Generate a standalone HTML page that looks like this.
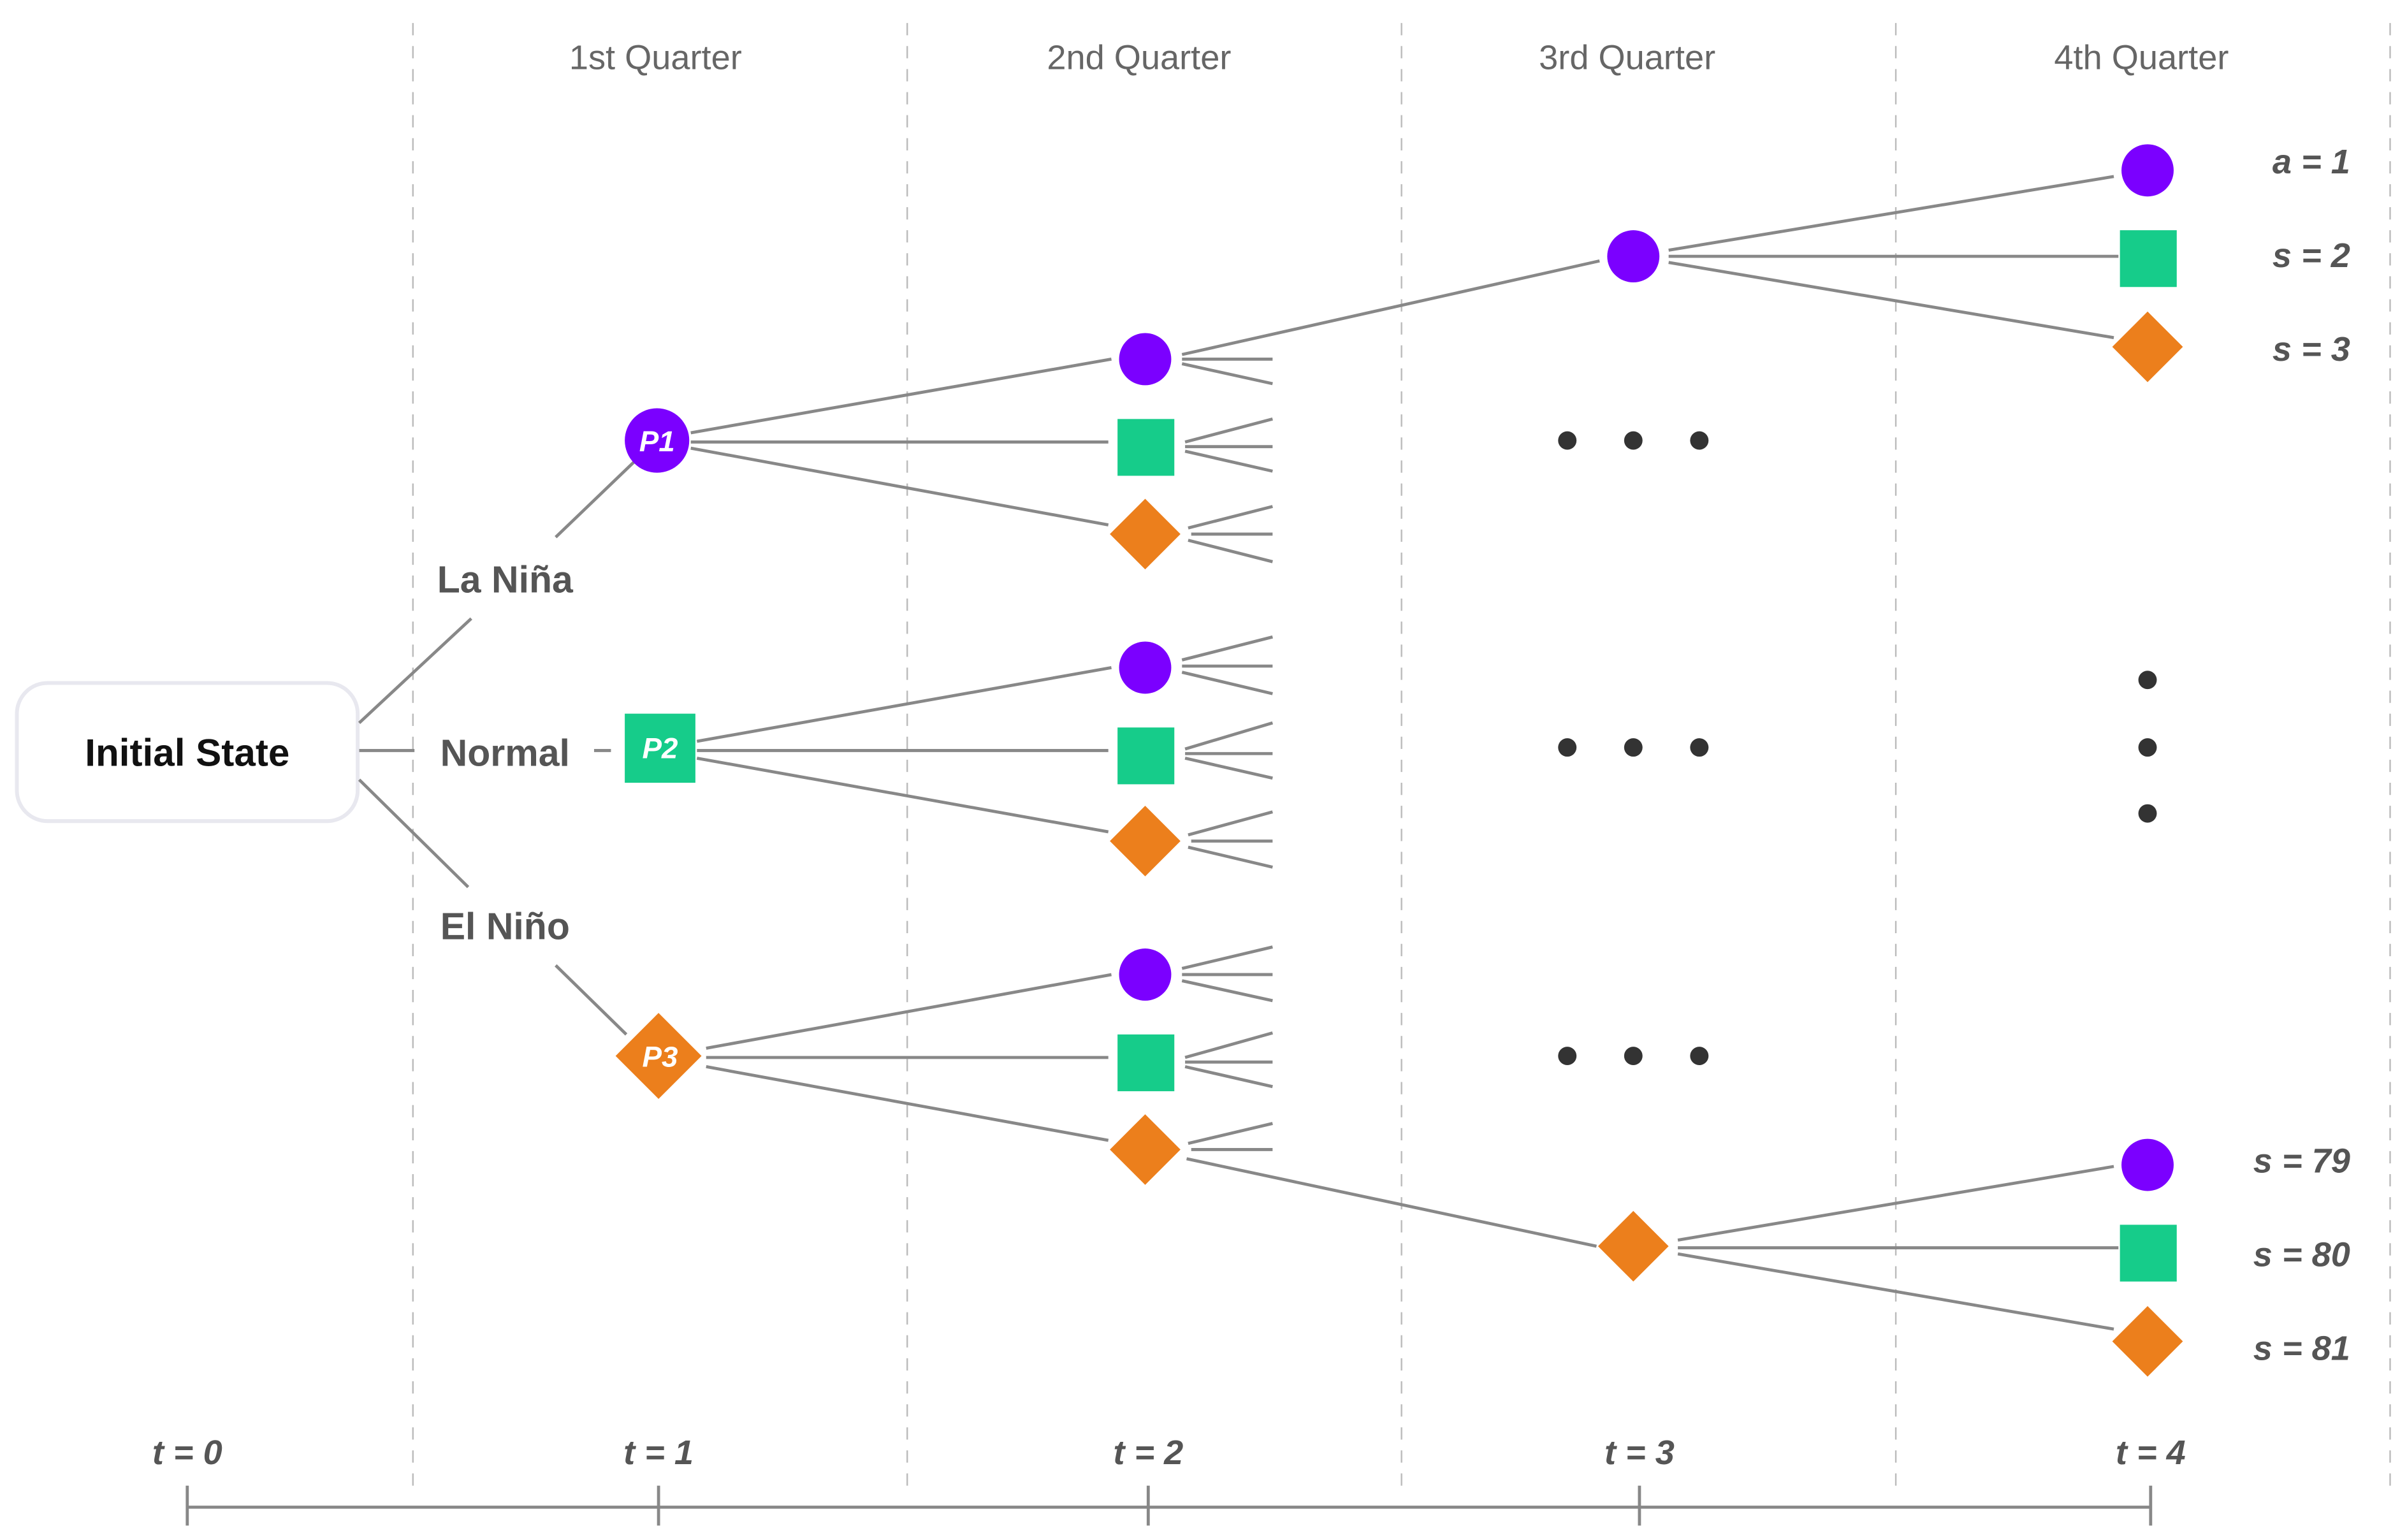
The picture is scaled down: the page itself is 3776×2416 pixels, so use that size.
<!DOCTYPE html>
<html><head><meta charset="utf-8"><style>
html,body{margin:0;padding:0;background:#fff;}
svg{display:block;}
text{font-family:"Liberation Sans",sans-serif;}
</style></head><body>
<svg width="3776" height="2416" viewBox="0 0 1568 1003.4" preserveAspectRatio="none" xmlns="http://www.w3.org/2000/svg">
<rect width="1568" height="1004" fill="#fff"/>
<g stroke="#bbb" stroke-width="1" stroke-dasharray="8,7">
<line x1="269" y1="15" x2="269" y2="975"/><line x1="591" y1="15" x2="591" y2="975"/>
<line x1="913" y1="15" x2="913" y2="975"/><line x1="1235" y1="15" x2="1235" y2="975"/>
<line x1="1557" y1="15" x2="1557" y2="975"/>
</g>
<g font-size="22.5" fill="#666" text-anchor="middle">
<text x="427" y="45">1st Quarter</text><text x="742" y="45">2nd Quarter</text>
<text x="1060" y="45">3rd Quarter</text><text x="1395" y="45">4th Quarter</text>
</g>
<rect x="11" y="445" width="222" height="90" rx="20" fill="#fff" stroke="#e8e8ef" stroke-width="2.5"/>
<text x="122" y="499" font-size="25" font-weight="bold" text-anchor="middle" fill="#111">Initial State</text>
<g stroke="#888" stroke-width="2" fill="none">
<line x1="234" y1="471" x2="307" y2="403"/><line x1="362" y1="350" x2="413" y2="301"/>
<line x1="234" y1="489" x2="270" y2="489"/><line x1="387" y1="489" x2="398" y2="489"/>
<line x1="234" y1="508" x2="305" y2="578"/><line x1="362" y1="629" x2="408" y2="674"/>
<line x1="450" y1="282" x2="724" y2="234"/><line x1="450" y1="288" x2="722" y2="288"/><line x1="450" y1="292" x2="722" y2="342"/>
<line x1="454" y1="483" x2="724" y2="435"/><line x1="454" y1="489" x2="722" y2="489"/><line x1="454" y1="494" x2="722" y2="542"/>
<line x1="460" y1="683" x2="724" y2="635"/><line x1="460" y1="689" x2="722" y2="689"/><line x1="460" y1="695" x2="722" y2="743"/>
<line x1="770" y1="231" x2="1042" y2="170"/><line x1="770" y1="234" x2="829" y2="234"/><line x1="770" y1="237" x2="829" y2="250"/>
<line x1="772" y1="288" x2="829" y2="273"/><line x1="772" y1="291" x2="829" y2="291"/><line x1="772" y1="294" x2="829" y2="307"/>
<line x1="774" y1="344" x2="829" y2="330"/><line x1="776" y1="348" x2="829" y2="348"/><line x1="774" y1="352" x2="829" y2="366"/>
<line x1="770" y1="430" x2="829" y2="415"/><line x1="770" y1="434" x2="829" y2="434"/><line x1="770" y1="438" x2="829" y2="452"/>
<line x1="772" y1="488" x2="829" y2="471"/><line x1="772" y1="491" x2="829" y2="491"/><line x1="772" y1="494" x2="829" y2="507"/>
<line x1="774" y1="544" x2="829" y2="529"/><line x1="776" y1="548" x2="829" y2="548"/><line x1="774" y1="552" x2="829" y2="565"/>
<line x1="770" y1="631" x2="829" y2="617"/><line x1="770" y1="635" x2="829" y2="635"/><line x1="770" y1="639" x2="829" y2="652"/>
<line x1="772" y1="689" x2="829" y2="673"/><line x1="772" y1="692" x2="829" y2="692"/><line x1="772" y1="695" x2="829" y2="708"/>
<line x1="774" y1="745" x2="829" y2="732"/><line x1="776" y1="749" x2="829" y2="749"/><line x1="773" y1="755" x2="1040" y2="812"/>
<line x1="1087" y1="163" x2="1377" y2="115"/><line x1="1087" y1="167" x2="1380" y2="167"/><line x1="1087" y1="171" x2="1377" y2="220"/>
<line x1="1093" y1="808" x2="1377" y2="760"/><line x1="1093" y1="813" x2="1380" y2="813"/><line x1="1093" y1="817" x2="1377" y2="866"/>
</g>
<g font-size="24.5" font-weight="bold" fill="#555" text-anchor="middle">
<text x="329" y="386">La Niña</text><text x="329" y="499">Normal</text><text x="329" y="612">El Niño</text>
</g>
<circle cx="428" cy="287" r="21" fill="#7b00ff"/>
<rect x="407" y="465" width="46" height="45" fill="#16cc8a"/>
<polygon points="429,660 457,688 429,716 401,688" fill="#ec7f1c"/>
<g font-size="19" font-weight="bold" font-style="italic" fill="#fff" text-anchor="middle">
<text x="428" y="294">P1</text><text x="430" y="494">P2</text><text x="430" y="695">P3</text>
</g>
<g>
<circle cx="746" cy="234" r="17" fill="#7b00ff"/><rect x="728" y="273" width="37" height="37" fill="#16cc8a"/><polygon points="746,325 769,348 746,371 723,348" fill="#ec7f1c"/>
<circle cx="746" cy="435" r="17" fill="#7b00ff"/><rect x="728" y="474" width="37" height="37" fill="#16cc8a"/><polygon points="746,525 769,548 746,571 723,548" fill="#ec7f1c"/>
<circle cx="746" cy="635" r="17" fill="#7b00ff"/><rect x="728" y="674" width="37" height="37" fill="#16cc8a"/><polygon points="746,726 769,749 746,772 723,749" fill="#ec7f1c"/>
</g>
<circle cx="1064" cy="167" r="17" fill="#7b00ff"/>
<polygon points="1064,789 1087,812 1064,835 1041,812" fill="#ec7f1c"/>
<circle cx="1399" cy="111" r="17" fill="#7b00ff"/><rect x="1381" y="150" width="37" height="37" fill="#16cc8a"/><polygon points="1399,203 1422,226 1399,249 1376,226" fill="#ec7f1c"/>
<circle cx="1399" cy="759" r="17" fill="#7b00ff"/><rect x="1381" y="798" width="37" height="37" fill="#16cc8a"/><polygon points="1399,851 1422,874 1399,897 1376,874" fill="#ec7f1c"/>
<g fill="#333">
<circle cx="1021" cy="287" r="6"/><circle cx="1064" cy="287" r="6"/><circle cx="1107" cy="287" r="6"/>
<circle cx="1021" cy="487" r="6"/><circle cx="1064" cy="487" r="6"/><circle cx="1107" cy="487" r="6"/>
<circle cx="1021" cy="688" r="6"/><circle cx="1064" cy="688" r="6"/><circle cx="1107" cy="688" r="6"/>
<circle cx="1399" cy="443" r="6"/><circle cx="1399" cy="487" r="6"/><circle cx="1399" cy="530" r="6"/>
</g>
<g font-size="22.5" font-weight="bold" font-style="italic" fill="#555" text-anchor="end">
<text x="1531" y="113">a = 1</text><text x="1531" y="174">s = 2</text><text x="1531" y="235">s = 3</text>
<text x="1531" y="764">s = 79</text><text x="1531" y="825">s = 80</text><text x="1531" y="886">s = 81</text>
</g>
<g font-size="22.5" font-weight="bold" font-style="italic" fill="#555" text-anchor="middle">
<text x="122" y="954">t = 0</text><text x="429" y="954">t = 1</text><text x="748" y="954">t = 2</text><text x="1068" y="954">t = 3</text><text x="1401" y="954">t = 4</text>
</g>
<g stroke="#888" stroke-width="2">
<line x1="122" y1="982" x2="1401" y2="982"/>
<line x1="122" y1="968" x2="122" y2="994"/><line x1="429" y1="968" x2="429" y2="994"/><line x1="748" y1="968" x2="748" y2="994"/><line x1="1068" y1="968" x2="1068" y2="994"/><line x1="1401" y1="968" x2="1401" y2="994"/>
</g>
</svg>
</body></html>
